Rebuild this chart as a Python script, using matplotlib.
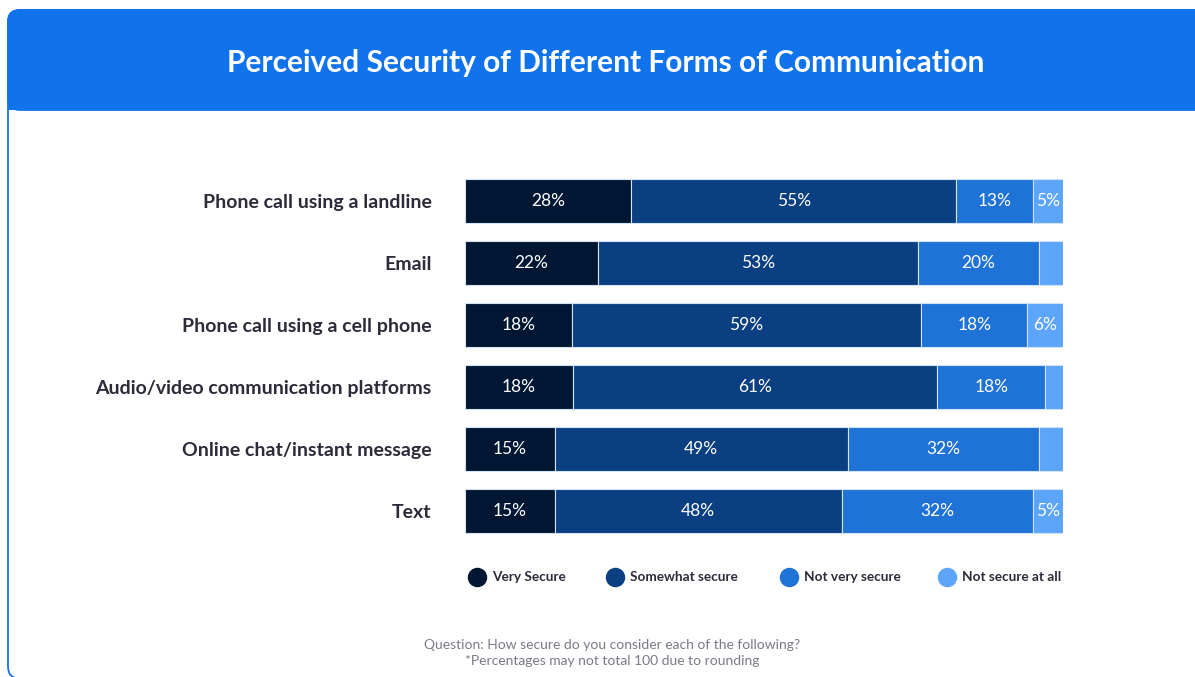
import matplotlib
matplotlib.use("Agg")
import matplotlib.pyplot as plt
from matplotlib.patches import FancyBboxPatch, Rectangle
from matplotlib.lines import Line2D
import numpy as np

plt.rcParams['font.family'] = ['Lato', 'DejaVu Sans']

# survey data (percent of respondents)
categories = ['Phone call using a landline', 'Email', 'Phone call using a cell phone',
              'Audio/video communication platforms', 'Online chat/instant message', 'Text']
very_secure = [28, 22, 18, 18, 15, 15]
somewhat_secure = [55, 53, 59, 61, 49, 48]
not_very_secure = [13, 20, 18, 18, 32, 32]
not_secure_at_all = [5, 4, 6, 3, 4, 5]

series_names = ['Very Secure', 'Somewhat secure', 'Not very secure', 'Not secure at all']
colors = ['#001733', '#0a3f82', '#1f72d6', '#5ca5fb']

W, H = 1195, 677
fig = plt.figure(figsize=(W / 100, H / 100), dpi=100)

# background card drawn in pixel coordinates
bg = fig.add_axes([0, 0, 1, 1])
bg.set_xlim(0, W)
bg.set_ylim(H, 0)
bg.axis('off')
bg.add_patch(FancyBboxPatch((8, 10), 1205, 668.5, boxstyle="round,pad=0,rounding_size=12",
                            facecolor='white', edgecolor='#1a73ea', linewidth=1.3))
bg.add_patch(FancyBboxPatch((8, 10), 1205, 100, boxstyle="round,pad=0,rounding_size=12",
                            facecolor='#1073ec', edgecolor='#1073ec', linewidth=1.3))
bg.add_patch(Rectangle((8, 50), 1205, 60, facecolor='#1073ec', edgecolor='none'))
bg.text(606, 63, 'Perceived Security of Different Forms of Communication', color='white',
        fontsize=21.5, fontweight='bold', ha='center', va='center')

# stacked bars, each row scaled to 100%
ax = fig.add_axes([465 / W, 1 - 542 / H, 598 / W, 372 / H])
data = np.array([very_secure, somewhat_secure, not_very_secure, not_secure_at_all], dtype=float)
shares = data / data.sum(axis=0) * 100
y = np.arange(len(categories))
left = np.zeros(len(categories))
for vals, raw, name, c in zip(shares, data, series_names, colors):
    ax.barh(y, vals, left=left, height=0.71, color=c, edgecolor='#d3e3f7', linewidth=0.8, label=name)
    for yi, l, v, r in zip(y, left, vals, raw):
        if r >= 5:
            ax.text(l + v / 2, yi, f'{int(r)}%', color='white', fontsize=12.5,
                    ha='center', va='center')
    left += vals

ax.set_xlim(0, 100)
ax.set_ylim(len(categories) - 0.5, -0.5)
ax.set_yticks(y)
ax.set_yticklabels(categories, fontsize=14, fontweight='bold', color='#2b2b3a')
ax.tick_params(axis='y', length=0, pad=24)
ax.set_xticks([])
for s in ax.spines.values():
    s.set_visible(False)

# legend row
legend_x = [477, 615, 789, 947]
for lx, name, c in zip(legend_x, series_names, colors):
    bg.add_line(Line2D([lx], [577], marker='o', markersize=13, color=c, linestyle='none'))
    bg.text(lx + 15, 577, name, fontsize=9.8, fontweight='bold', color='#2b2b3a',
            ha='left', va='center')

bg.text(612, 645, 'Question: How secure do you consider each of the following?',
        fontsize=10, color='#7a7a86', ha='center', va='center')
bg.text(612, 661, '*Percentages may not total 100 due to rounding',
        fontsize=10, color='#7a7a86', ha='center', va='center')

fig.savefig('out.png', dpi=100)
